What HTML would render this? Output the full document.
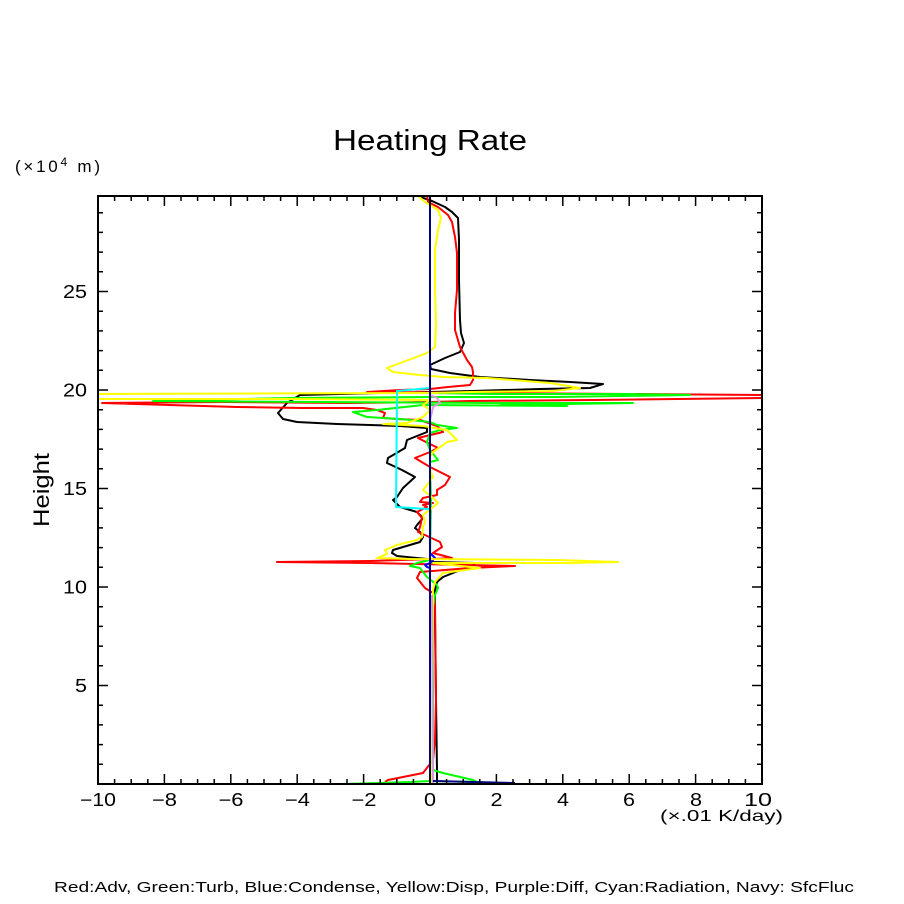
<!DOCTYPE html>
<html><head><meta charset="utf-8"><style>
html,body{margin:0;padding:0;background:#fff;}
svg{display:block;}
text{font-family:"Liberation Sans",sans-serif;fill:#000;}
</style></head><body>
<svg width="904" height="904" viewBox="0 0 904 904" xmlns="http://www.w3.org/2000/svg">
<rect width="904" height="904" fill="#fff"/>
<defs><clipPath id="c"><rect x="98" y="196" width="664" height="588"/></clipPath></defs>

<g clip-path="url(#c)" fill="none" stroke-width="2" stroke-linejoin="round">
<polyline stroke="#000" points="415,195 432,201 445,207 452,212 458,218 459,240 459,280 460,320 461,333 464,343 460,352 445,358 430,365 431,369 450,373 480,377 530,380 570,382 603,384 590,388 540,389 472,391 430,392 380,393 300,395 287,403 278,413 283,419 297,422 337,424 400,426 427,428 427,432 407,440 405,448 388,458 387,463 402,470 415,477 403,488 397,497 393,500 400,507 417,512 423,518 417,525 415,528 420,532 423,537 420,542 393,550 392,553 397,556 417,558 427,559 433,562 475,563 473,565 443,577 437,582 435,590 435,620 436,700 437,770 437,784"/>
<polyline stroke="#ff0000" points="427,195 428,202 438,207 448,215 452,222 455,237 457,253 457,273 457,290 455,313 455,330 460,347 467,360 472,367 473,372 473,380 470,385 448,387 430,389 400,390 367,392 500,393 627,394 765,395 765,398 592,400 470,401 430,402 347,403 225,402 102,403 170,405 237,407 303,408 363,408 377,410 385,413 383,418 397,419 420,420 437,426 443,432 418,438 438,448 430,452 415,458 430,467 450,477 445,485 437,490 437,495 423,498 420,502 433,503 423,505 427,507 417,512 422,518 420,527 418,532 425,535 440,542 442,547 433,553 452,558 433,559 370,561 277,562 370,563 515,566 470,568 420,572 417,578 425,588 433,593 435,600 436,700 435,740 433,760 423,773 388,780 385,782"/>
<polyline stroke="#00ff00" points="430,393 495,394 627,394 690,395 555,397 433,397 290,398 153,401 500,403 633,403 500,405 567,406 423,405 377,410 353,412 367,417 400,419 430,422 437,425 457,428 440,430 430,433 427,442 430,450 438,460 430,462 431,500 430,560 417,563 410,566 420,568 423,572 427,577 437,585 438,588 435,595 433,607 433,770 443,773 473,780 477,782 430,781 410,782 377,783 343,784"/>
<polyline stroke="#0000ff" points="430,553 435,558 430,563 425,565 427,567 430,568"/>
<polyline stroke="#ffff00" points="417,195 425,202 438,210 441,218 438,230 435,250 435,290 436,323 435,347 427,353 403,362 387,368 393,372 420,375 443,377 487,378 550,383 580,388 553,391 470,392 430,393 96,394 96,399 290,399 430,400 423,405 430,410 423,417 407,423 383,424 423,426 447,430 457,440 447,442 443,445 433,452 430,457 430,470 433,477 427,485 423,490 433,498 438,503 432,508 423,515 425,522 423,527 422,537 417,540 397,545 385,550 387,554 380,557 377,558 410,559 557,560 618,562 570,563 433,563 480,568 443,573 435,582 433,590 432,784"/>
<polyline stroke="#dd99dd" points="430,395 437,398 440,403 433,407 432,412 430,420"/>
<polyline stroke="#dd99dd" points="432,595 433,784"/>
<polyline stroke="#00ffff" points="430,388 397,391 396,507 428,509 430,509"/>
<polyline stroke="#000080" points="430,195 430,784"/>
<polyline stroke="#000080" points="433,781 515,783"/>
</g>

<rect x="98" y="196" width="664" height="588" fill="none" stroke="#000" stroke-width="2"/>

<g stroke="#000" stroke-width="1.5">
<path d="
M114.6,784v-5 M131.2,784v-5 M147.8,784v-5 M164.4,784v-10 M181,784v-5 M197.6,784v-5 M214.2,784v-5 M230.8,784v-10
M247.4,784v-5 M264,784v-5 M280.6,784v-5 M297.2,784v-10 M313.8,784v-5 M330.4,784v-5 M347,784v-5 M363.6,784v-10
M380.2,784v-5 M396.8,784v-5 M413.4,784v-5 M430,784v-10 M446.6,784v-5 M463.2,784v-5 M479.8,784v-5 M496.4,784v-10
M513,784v-5 M529.6,784v-5 M546.2,784v-5 M562.8,784v-10 M579.4,784v-5 M596,784v-5 M612.6,784v-5 M629.2,784v-10
M645.8,784v-5 M662.4,784v-5 M679,784v-5 M695.6,784v-10 M712.2,784v-5 M728.8,784v-5 M745.4,784v-5
M114.6,196v5 M131.2,196v5 M147.8,196v5 M164.4,196v10 M181,196v5 M197.6,196v5 M214.2,196v5 M230.8,196v10
M247.4,196v5 M264,196v5 M280.6,196v5 M297.2,196v10 M313.8,196v5 M330.4,196v5 M347,196v5 M363.6,196v10
M380.2,196v5 M396.8,196v5 M413.4,196v5 M430,196v10 M446.6,196v5 M463.2,196v5 M479.8,196v5 M496.4,196v10
M513,196v5 M529.6,196v5 M546.2,196v5 M562.8,196v10 M579.4,196v5 M596,196v5 M612.6,196v5 M629.2,196v10
M645.8,196v5 M662.4,196v5 M679,196v5 M695.6,196v10 M712.2,196v5 M728.8,196v5 M745.4,196v5
M98,764.3h5 M98,744.6h5 M98,724.9h5 M98,705.2h5 M98,685.5h10 M98,665.8h5 M98,646.1h5 M98,626.4h5 M98,606.7h5 M98,587h10
M98,567.3h5 M98,547.6h5 M98,527.9h5 M98,508.2h5 M98,488.5h10 M98,468.8h5 M98,449.1h5 M98,429.4h5 M98,409.7h5 M98,390h10
M98,370.3h5 M98,350.6h5 M98,330.9h5 M98,311.2h5 M98,291.5h10 M98,271.8h5 M98,252.1h5 M98,232.4h5 M98,212.7h5
M762,764.3h-5 M762,744.6h-5 M762,724.9h-5 M762,705.2h-5 M762,685.5h-10 M762,665.8h-5 M762,646.1h-5 M762,626.4h-5 M762,606.7h-5 M762,587h-10
M762,567.3h-5 M762,547.6h-5 M762,527.9h-5 M762,508.2h-5 M762,488.5h-10 M762,468.8h-5 M762,449.1h-5 M762,429.4h-5 M762,409.7h-5 M762,390h-10
M762,370.3h-5 M762,350.6h-5 M762,330.9h-5 M762,311.2h-5 M762,291.5h-10 M762,271.8h-5 M762,252.1h-5 M762,232.4h-5 M762,212.7h-5
"/>
</g>

<g font-size="18" text-anchor="middle">
<text x="98" y="806" textLength="36" lengthAdjust="spacingAndGlyphs">−10</text>
<text x="164.5" y="806" textLength="25" lengthAdjust="spacingAndGlyphs">−8</text>
<text x="231" y="806" textLength="25" lengthAdjust="spacingAndGlyphs">−6</text>
<text x="297.5" y="806" textLength="25" lengthAdjust="spacingAndGlyphs">−4</text>
<text x="364" y="806" textLength="25" lengthAdjust="spacingAndGlyphs">−2</text>
<text x="430" y="806" textLength="12" lengthAdjust="spacingAndGlyphs">0</text>
<text x="496.5" y="806" textLength="12" lengthAdjust="spacingAndGlyphs">2</text>
<text x="563" y="806" textLength="12" lengthAdjust="spacingAndGlyphs">4</text>
<text x="629" y="806" textLength="12" lengthAdjust="spacingAndGlyphs">6</text>
<text x="696" y="806" textLength="12" lengthAdjust="spacingAndGlyphs">8</text>
<text x="758" y="806" textLength="28" lengthAdjust="spacingAndGlyphs">10</text>
</g>

<g font-size="18" text-anchor="end">
<text x="87" y="692" textLength="12" lengthAdjust="spacingAndGlyphs">5</text>
<text x="87" y="593.5" textLength="24" lengthAdjust="spacingAndGlyphs">10</text>
<text x="87" y="495" textLength="24" lengthAdjust="spacingAndGlyphs">15</text>
<text x="87" y="396.5" textLength="24" lengthAdjust="spacingAndGlyphs">20</text>
<text x="87" y="298" textLength="24" lengthAdjust="spacingAndGlyphs">25</text>
</g>

<text x="430" y="150" font-size="29" text-anchor="middle" textLength="194" lengthAdjust="spacingAndGlyphs">Heating Rate</text>
<text x="15" y="172" font-size="17" textLength="85" lengthAdjust="spacing">(×10<tspan font-size="12" dy="-6">4</tspan><tspan dy="6"> m)</tspan></text>
<text transform="translate(49,490) rotate(-90)" font-size="22" text-anchor="middle" textLength="74" lengthAdjust="spacingAndGlyphs">Height</text>
<text x="660" y="821" font-size="16" textLength="123" lengthAdjust="spacingAndGlyphs">(×.01 K/day)</text>
<text x="54" y="892" font-size="15" textLength="800" lengthAdjust="spacingAndGlyphs">Red:Adv, Green:Turb, Blue:Condense, Yellow:Disp, Purple:Diff, Cyan:Radiation, Navy: SfcFluc</text>
</svg>
</body></html>
